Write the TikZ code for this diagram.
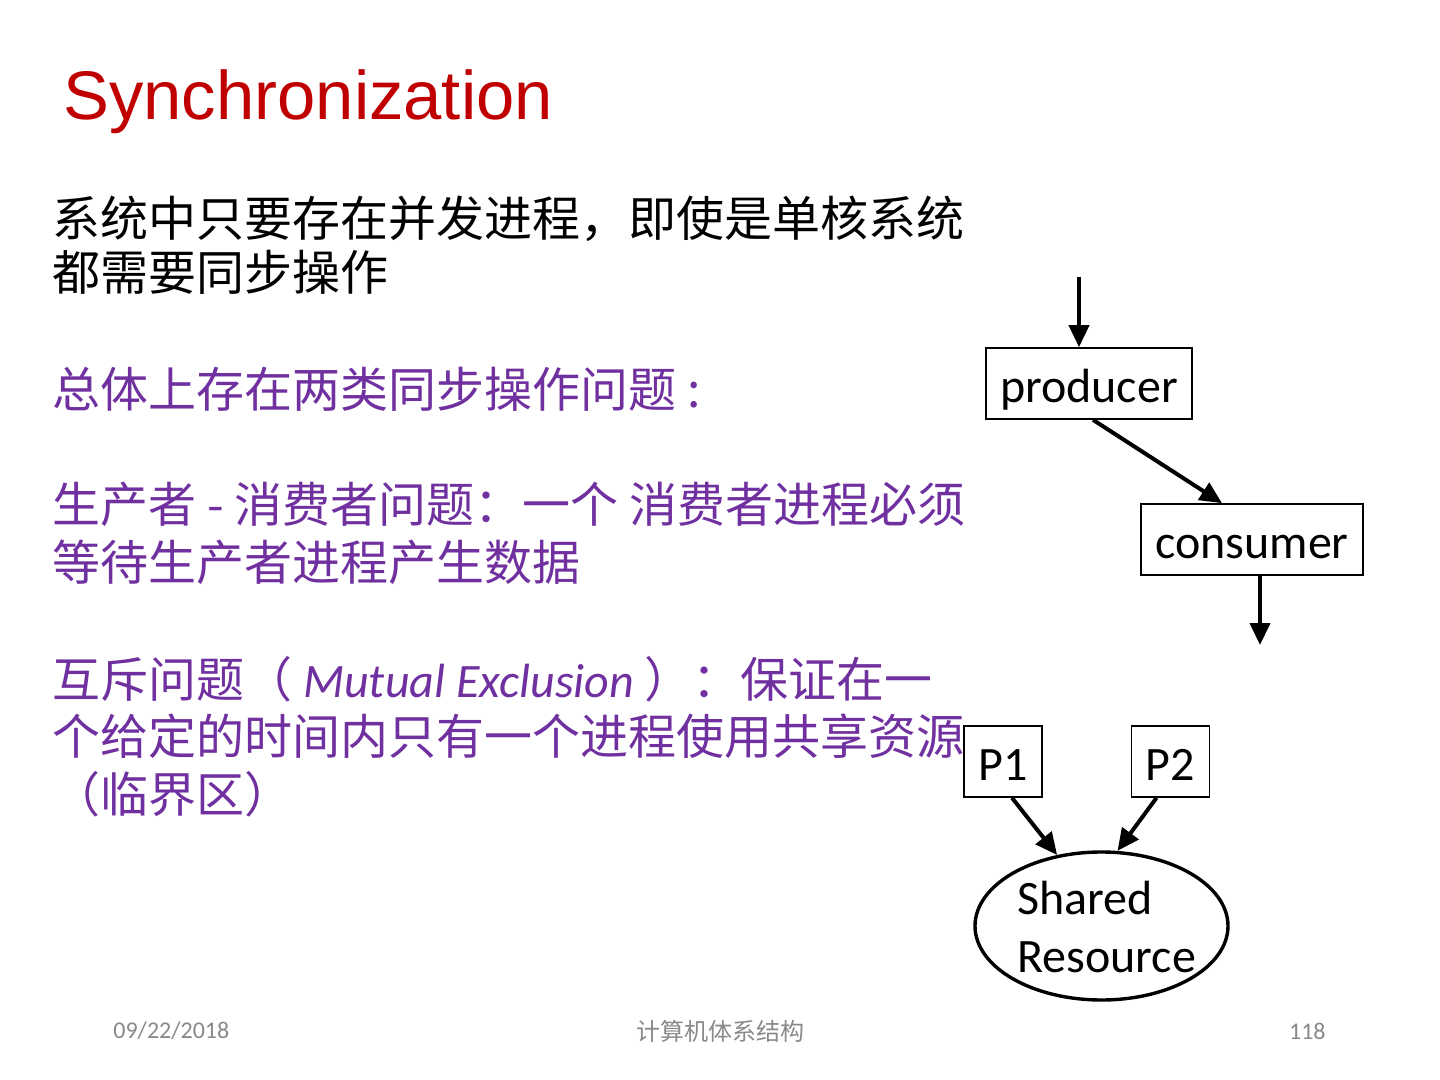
\documentclass[tikz,border=0pt]{standalone}
\usepackage{fontspec}
\setmainfont{Carlito}
\newfontfamily\cjk{Noto Sans CJK SC}
\newfontfamily\titlefont{Liberation Sans}
\usetikzlibrary{arrows.meta, positioning, shapes.geometric}
\definecolor{titlered}{RGB}{192, 0, 0}
\definecolor{textpurple}{RGB}{112, 48, 160}
\definecolor{footgray}{RGB}{137, 137, 137}

\tikzset{
  bodyline/.style={anchor=base west, inner sep=0pt, font=\cjk\fontsize{24}{28}\selectfont},
  procbox/.style={draw, line width=0.85pt, inner sep=0pt, minimum height=35.5pt,
    text height=25pt, text depth=6pt, font=\fontsize{24}{28}\selectfont},
  flow/.style={line width=2pt, -{Triangle[length=11pt, width=10pt]}},
  foot/.style={inner sep=0pt, text=footgray, font=\fontsize{12}{14}\selectfont}
}

\begin{document}
\begin{tikzpicture}[x=0.5pt, y=-0.5pt]
  \fill[white] (0, 0) rectangle (1440, 1080);
  \useasboundingbox (0, 0) rectangle (1440, 1080);

  % Title
  \node[anchor=base west, inner sep=0pt, text=titlered, font=\titlefont\fontsize{34.4}{40}\selectfont]
    (title) at (63, 120) {Synchronization};

  % Left: the text lines
  \node[bodyline] (l1) at (52, 237) {系统中只要存在并发进程，即使是单核系统};
  \node[bodyline] (l2) at (52, 291) {都需要同步操作};
  \begin{scope}[every node/.append style={text=textpurple}]
    \node[bodyline] (p1) at (52, 408) {总体上存在两类同步操作问题 :};
    \node[bodyline] (p2) at (52, 523) {生产者 - 消费者问题：一个 消费者进程必须};
    \node[bodyline] (p3) at (52, 580) {等待生产者进程产生数据};
    \node[bodyline] (p4) at (52, 697) {互斥问题（{\rmfamily\itshape{} Mutual Exclusion }）：保证在一};
    \node[bodyline] (p5) at (52, 754) {个给定的时间内只有一个进程使用共享资源};
    \node[bodyline] (p6) at (52, 812) {（临界区）};
  \end{scope}

  % Right: producer / consumer
  \node[procbox, minimum width=103pt] (producer) at (1089, 383.5) {producer};
  \node[procbox, minimum width=111pt] (consumer) at (1252, 539.5) {consumer};
  \coordinate (prodin) at (1079, 277);
  \coordinate (consout) at (1260, 645);
  \draw[flow] (prodin) -- (prodin |- producer.north);
  \draw[flow] ([xshift=2pt]producer.south) -- ([xshift=-15pt]consumer.north);
  \draw[flow] (consout |- consumer.south) -- (consout);

  % Right: two processes and the shared resource
  \node[procbox, minimum width=39pt] (pa) at (1003, 761.5) {P1};
  \node[procbox, minimum width=39pt] (pb) at (1170.5, 761.5) {P2};
  \node[ellipse, draw, line width=1.7pt, inner sep=0pt, minimum width=126.5pt, minimum height=74pt,
    text width=84pt, align=left, text height=18pt, font=\fontsize{24}{29}\selectfont]
    (res) at (1101.5, 926) {Shared\\Resource};
  \draw[flow] ([xshift=4.5pt]pa.south) -- (res.122);
  \draw[flow] ([xshift=-7pt]pb.south) -- (res.78);

  % Footer
  \node[foot, anchor=west] (date) at (113, 1031) {09/22/2018};
  \node[foot, font=\cjk\fontsize{12}{14}\selectfont] (course) at (720, 1031) {计算机体系结构};
  \node[foot, anchor=east] (page) at (1326, 1031) {118};
\end{tikzpicture}
\end{document}
